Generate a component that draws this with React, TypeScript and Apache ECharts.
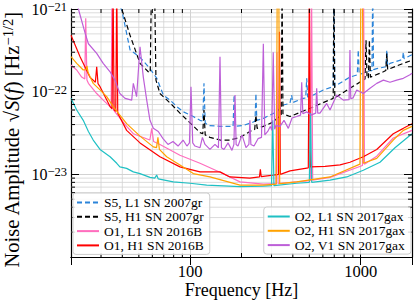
import React, { useEffect, useRef } from 'react';
import * as echarts from 'echarts';

const FONT = '"Liberation Serif", "DejaVu Serif", serif';

const X_MIN = 20;
const X_MAX = 2000;
const Y_MIN = 1e-24;
const Y_MAX = 1e-21;

const xMinorTicks = [30, 40, 50, 60, 70, 80, 90, 200, 300, 400, 500, 600, 700, 800, 900];
const yMinorTicks = [
  2e-24, 3e-24, 4e-24, 5e-24, 6e-24, 7e-24, 8e-24, 9e-24,
  2e-23, 3e-23, 4e-23, 5e-23, 6e-23, 7e-23, 8e-23, 9e-23,
  2e-22, 3e-22, 4e-22, 5e-22, 6e-22, 7e-22, 8e-22, 9e-22,
];

const seriesNames = [
  'S5, L1 SN 2007gr',
  'S5, H1 SN 2007gr',
  'O1, L1 SN 2016B',
  'O1, H1 SN 2016B',
  'O2, L1 SN 2017gax',
  'O2, H1 SN 2017gax',
  'O2, V1 SN 2017gax',
];
const seriesColors = ['#2b84d9', '#000000', '#ff6ebe', '#ff0000', '#1fc0c4', '#ffa200', '#bd5fd8'];
const seriesDashed = [true, true, false, false, false, false, false];

const s5L1: [number, number][] = [
  [37, 1.3e-21], [39.7, 9.7e-22], [44.4, 3.2e-22], [50.8, 2.6e-22], [58.1, 1.9e-22], [63.6, 1.46e-22],
  [69.6, 9.1e-23], [76.2, 7.9e-23], [83.4, 6.6e-23], [91.2, 5.7e-23], [104.3, 5.0e-23], [114.2, 4.5e-23],
  [118.5, 4.4e-23], [120.5, 1.26e-22], [122.5, 4.2e-23], [127.7, 3.9e-23], [149.6, 3.8e-23], [171, 3.8e-23],
  [178.5, 3.8e-23], [181, 9.1e-23], [183.5, 3.8e-23], [205, 3.9e-23], [234.6, 4.3e-23], [240, 4.4e-23],
  [243, 9.5e-23], [246, 4.5e-23], [268.6, 4.75e-23], [321.8, 5.7e-23], [351.6, 6.9e-23], [384.6, 7.2e-23],
  [393.5, 9.1e-23], [400, 7.4e-23], [460.8, 8.3e-23], [476, 8.4e-23], [482.4, 1.45e-22], [489, 8.6e-23],
  [527.4, 9.1e-23], [603.8, 1.05e-22], [690, 1.15e-22], [697, 2e-21], [705, 1.16e-22], [723, 1.2e-22],
  [865, 1.5e-22], [955, 1.6e-22], [968, 3.2e-22], [980, 1.62e-22], [1036, 1.67e-22], [1134, 1.8e-22],
  [1165, 1.8e-22], [1177, 2e-21], [1190, 1.85e-22], [1242, 1.9e-22], [1405, 2.0e-22], [1423, 3.2e-22],
  [1440, 2.05e-22], [1486, 2.2e-22], [1760, 2.45e-22], [1779, 3.0e-22], [1798, 2.5e-22], [2000, 2.8e-22],
];

const s5H1: [number, number][] = [
  [38, 1.2e-21], [39.7, 1.0e-21], [44.4, 4.8e-22], [50.8, 2.2e-22], [56.8, 1.74e-22], [58.3, 1.7e-22],
  [59.3, 2e-21], [61.8, 2e-21], [63, 1.38e-22], [66.5, 9.5e-23], [76.2, 7.3e-23], [87.1, 5.5e-23],
  [99.8, 4.2e-23], [114.2, 3.2e-23], [118.5, 3.1e-23], [120.5, 6e-23], [122.5, 3.0e-23], [130.6, 2.8e-23],
  [149.6, 2.6e-23], [171, 2.6e-23], [196, 2.8e-23], [224, 3.3e-23], [239, 3.5e-23], [243, 5.2e-23],
  [247, 3.6e-23], [268.6, 3.8e-23], [307, 4.3e-23], [342, 5.3e-23], [346, 2e-21], [350, 5.4e-23],
  [384.6, 5e-23], [504.5, 6.3e-23], [690, 8.3e-23], [697, 2e-21], [705, 8.5e-23], [723, 8.7e-23],
  [865, 1.1e-22], [1036, 1.38e-22], [1060, 1.42e-22], [1075, 4.2e-22], [1090, 1.45e-22], [1110, 1.48e-22],
  [1125, 4.2e-22], [1140, 1.5e-22], [1359, 1.74e-22], [1405, 1.8e-22], [1423, 2.9e-22], [1440, 1.85e-22],
  [1779, 2.2e-22], [2000, 2.4e-22],
];

const o1L1: [number, number][] = [
  [20, 2.1e-22], [21.6, 1.83e-22], [23.1, 1.5e-22], [24.1, 1.42e-22], [24.4, 7.7e-22], [24.8, 1.38e-22],
  [25.3, 1.26e-22], [28.3, 9.5e-23], [30.9, 7.9e-23], [33.9, 6.6e-23], [34.4, 6.4e-23], [34.8, 2e-21],
  [35.3, 6.2e-23], [36.2, 5.7e-23], [42.4, 3.8e-23], [46.4, 3.1e-23], [58, 2.6e-23], [59.5, 3.6e-23],
  [61, 2.5e-23], [66.5, 2.3e-23], [87.1, 1.7e-23], [114.2, 1.36e-23], [149.6, 1.06e-23], [196, 8.1e-24],
  [268.6, 7.6e-24], [318, 7.7e-24], [323, 3e-22], [328, 7.7e-24], [421.5, 8.1e-24], [507, 8.4e-24],
  [515, 2e-21], [523, 8.5e-24], [661, 9.2e-24], [1025, 1.28e-23], [1040, 2e-21], [1052, 1.32e-23],
  [1242, 1.66e-23], [1553, 2.75e-23], [2000, 3.4e-23],
];

const o1H1: [number, number][] = [
  [20, 4.8e-22], [22.6, 2.65e-22], [25.8, 1.5e-22], [27.8, 1.3e-22], [28.3, 2e-22], [28.8, 1.25e-22],
  [29.6, 1.15e-22], [33.9, 6.6e-23], [34.8, 6.2e-23], [35.3, 2e-21], [35.8, 6e-23], [36.6, 5.8e-23],
  [37.1, 2e-21], [37.6, 5.5e-23], [42.4, 3.4e-23], [50.8, 2.4e-23], [66.5, 1.63e-23], [87.1, 1.23e-23],
  [114.2, 1.07e-23], [149.6, 1.07e-23], [171, 9.3e-24], [224, 9e-24], [255, 9.3e-24], [258, 1.15e-23],
  [261, 9.4e-24], [307, 9.8e-24], [330, 1.0e-23], [334, 5.3e-22], [338, 1.0e-23], [385, 1.1e-23],
  [493, 1.2e-23], [500, 2e-21], [507, 1.23e-23], [618, 1.25e-23], [757, 1.3e-23], [865, 1.4e-23],
  [1036, 1.63e-23], [1242, 2e-23], [1553, 3.1e-23], [1779, 3.6e-23], [2000, 4.1e-23],
];

const o2L1: [number, number][] = [
  [20, 8.3e-23], [21.6, 6e-23], [23.6, 4.5e-23], [25.3, 3.3e-23], [27, 2.6e-23], [29.6, 2e-23],
  [33.9, 1.63e-23], [37.1, 1.36e-23], [38.7, 1.23e-23], [42.4, 1.18e-23], [46.4, 1.07e-23], [50.8, 1.02e-23],
  [58.1, 9.2e-24], [62, 9.0e-24], [63.6, 9.8e-24], [65, 8.8e-24], [79.6, 8.1e-24], [99.8, 7.8e-24],
  [125, 7.4e-24], [196, 7.1e-24], [268.6, 7.2e-24], [300, 7.3e-24], [305, 4.5e-23], [310, 7.3e-24],
  [421.5, 7.8e-24], [500, 8e-24], [508, 5.5e-23], [516, 8e-24], [661, 8.5e-24], [828, 9.3e-24],
  [1036, 1.12e-23], [1298, 1.4e-23], [1589, 2.1e-23], [2000, 3.1e-23],
];

const o2H1: [number, number][] = [
  [20, 2.65e-22], [21.6, 2.2e-22], [23.6, 1.83e-22], [24.5, 1.85e-22], [24.8, 2.05e-22], [25.2, 1.7e-22],
  [27, 1.26e-22], [29.6, 1.05e-22], [32.4, 8.7e-23], [35.4, 6.6e-23], [38.7, 5.2e-23], [42.4, 4.1e-23],
  [50.8, 2.9e-23], [60.8, 2.15e-23], [63.5, 2.1e-23], [64.7, 2.8e-23], [66, 2.0e-23], [72.8, 1.63e-23],
  [87.1, 1.3e-23], [104.3, 1.02e-23], [130.6, 9.3e-24], [196, 7.4e-24], [268.6, 7.4e-24], [320, 7.6e-24],
  [324, 2e-21], [331, 2e-21], [335, 7.7e-24], [421.5, 8.1e-24], [661, 9.3e-24], [990, 1.33e-23],
  [1003, 2e-21], [1025, 2e-21], [1035, 1.36e-23], [1242, 1.56e-23], [1553, 2.6e-23], [1779, 3.4e-23],
  [2000, 3.8e-23],
];

const o2V1: [number, number][] = [
  [20, 2.5e-21], [22.1, 1.0e-21], [24.2, 5.1e-22], [25.3, 3.8e-22], [28.3, 2.9e-22], [30.9, 2.2e-22],
  [33.9, 1.74e-22], [36.2, 1.38e-22], [38.7, 9.5e-23], [41.5, 8.3e-23], [45.4, 7.9e-23], [46.4, 1.26e-22],
  [48.5, 8.7e-23], [50.8, 3.5e-22], [53.1, 1.5e-22], [55.6, 7.9e-23], [58.1, 4.5e-23], [60.8, 3.6e-23],
  [65, 3.3e-23], [69.3, 2.7e-23], [74.1, 2.3e-23], [79.3, 2.5e-23], [84.9, 2.2e-23], [90.9, 2.6e-23],
  [95.7, 2.2e-23], [99, 2.4e-23], [101.1, 1.15e-22], [103.5, 2.4e-23], [106.7, 2.2e-23], [114.2, 2.1e-23],
  [118, 2.8e-23], [122.2, 2.3e-23], [130.6, 2.0e-23], [139.8, 2.3e-23], [146.5, 2.1e-23], [149.6, 2.65e-22],
  [152.5, 2.1e-23], [157.8, 2.0e-23], [166.7, 2.4e-23], [175.8, 1.95e-23], [180.5, 2.3e-23], [183.3, 9.1e-23],
  [186, 2.3e-23], [190.8, 2.2e-23], [201.4, 3.0e-23], [212.5, 2.1e-23], [221, 2.3e-23], [224, 4.5e-23],
  [227, 2.3e-23], [236.8, 2.2e-23], [250, 2.7e-23], [262, 2.8e-23], [268.6, 3.8e-22], [274, 3.0e-23],
  [285, 3.3e-23], [295, 3.8e-23], [301, 3.4e-23], [307, 3e-22], [313, 3.5e-23], [318.8, 3.9e-23],
  [336.3, 3.8e-23], [355, 4.5e-23], [376.4, 3.6e-23], [395.7, 4.8e-23], [421.5, 5e-23], [444, 5.2e-23],
  [451, 1.3e-22], [458, 5.4e-23], [482.4, 5.7e-23], [511, 5.2e-23], [545, 5.5e-23], [552, 1.1e-22],
  [560, 5.5e-23], [577, 5.5e-23], [632, 7.2e-23], [661, 6e-23], [723, 9.1e-23], [791, 7.9e-23],
  [855, 8e-23], [865, 3.2e-22], [875, 8.2e-23], [902, 8.4e-23], [948, 1.05e-22], [1036, 9.5e-23],
  [1134, 1.1e-22], [1242, 1.26e-22], [1359, 1.38e-22], [1486, 1.3e-22], [1626, 1.38e-22], [1779, 1.45e-22],
  [1946, 1.6e-22], [2000, 1.67e-22],
];

const seriesData = [s5L1, s5H1, o1L1, o1H1, o2L1, o2H1, o2V1];

export default function App() {
  const ref = useRef<HTMLDivElement>(null);

  useEffect(() => {
    const chart = echarts.init(ref.current as HTMLDivElement, null, { renderer: 'svg' });

    const gridColor = '#d2d2d2';

    const minorGridX = {
      type: 'custom',
      silent: true,
      data: xMinorTicks.map((v) => [v, Y_MIN]),
      renderItem: (params: any, api: any) => {
        const cs = params.coordSys;
        const x = api.coord([api.value(0), api.value(1)])[0];
        return {
          type: 'line',
          shape: { x1: x, y1: cs.y, x2: x, y2: cs.y + cs.height },
          style: { stroke: gridColor, lineWidth: 0.8 },
        };
      },
    };
    const minorGridY = {
      type: 'custom',
      silent: true,
      data: yMinorTicks.map((v) => [X_MIN, v]),
      renderItem: (params: any, api: any) => {
        const cs = params.coordSys;
        const y = api.coord([api.value(0), api.value(1)])[1];
        return {
          type: 'line',
          shape: { x1: cs.x, y1: y, x2: cs.x + cs.width, y2: y },
          style: { stroke: gridColor, lineWidth: 0.8 },
        };
      },
    };
    const minorTickX = {
      type: 'custom',
      silent: true,
      z: 6,
      data: xMinorTicks.map((v) => [v, Y_MIN]),
      renderItem: (params: any, api: any) => {
        const cs = params.coordSys;
        const x = api.coord([api.value(0), api.value(1)])[0];
        const top = cs.y;
        const bot = cs.y + cs.height;
        return {
          type: 'group',
          children: [
            { type: 'line', shape: { x1: x, y1: bot, x2: x, y2: bot - 4 }, style: { stroke: '#000', lineWidth: 1 } },
            { type: 'line', shape: { x1: x, y1: top, x2: x, y2: top + 4 }, style: { stroke: '#000', lineWidth: 1 } },
          ],
        };
      },
    };
    const minorTickY = {
      type: 'custom',
      silent: true,
      z: 6,
      data: yMinorTicks.map((v) => [X_MIN, v]),
      renderItem: (params: any, api: any) => {
        const cs = params.coordSys;
        const y = api.coord([api.value(0), api.value(1)])[1];
        const l = cs.x;
        const r = cs.x + cs.width;
        return {
          type: 'group',
          children: [
            { type: 'line', shape: { x1: l, y1: y, x2: l + 4, y2: y }, style: { stroke: '#000', lineWidth: 1 } },
            { type: 'line', shape: { x1: r, y1: y, x2: r - 4, y2: y }, style: { stroke: '#000', lineWidth: 1 } },
          ],
        };
      },
    };

    const lineSeries = seriesNames.map((name, i) => ({
      type: 'line',
      name,
      data: seriesData[i],
      symbol: 'none',
      showSymbol: false,
      clip: true,
      z: 3,
      emphasis: { disabled: true },
      lineStyle: {
        color: seriesColors[i],
        width: 1.2,
        type: seriesDashed[i] ? [5, 3] : 'solid',
      },
      itemStyle: { color: seriesColors[i] },
    }));

    const axisLineStyle = { color: '#000', width: 1.2 };
    const majorTick = { show: true, inside: true, length: 8, lineStyle: { color: '#000', width: 1 } };

    const legendCommon = {
      orient: 'vertical',
      itemWidth: 22,
      itemHeight: 14,
      itemGap: 0.3,
      padding: [2.5, 6, 2, 3],
      backgroundColor: 'rgba(255,255,255,0.85)',
      borderColor: '#cccccc',
      borderWidth: 1,
      borderRadius: 3,
      selectedMode: false,
      z: 10,
      itemStyle: { opacity: 0, borderWidth: 0 },
      lineStyle: { width: 2, opacity: 1 },
      textStyle: { fontFamily: FONT, fontSize: 13.5, color: '#000', lineHeight: 14 },
    };

    const yTitleRich = {
      t: { fontFamily: FONT, fontSize: 20.5, lineHeight: 24, fill: '#000' },
      i: { fontFamily: FONT, fontSize: 20.5, lineHeight: 24, fontStyle: 'italic', fill: '#000' },
      s: { fontFamily: FONT, fontSize: 14.5, lineHeight: 13, verticalAlign: 'top', fill: '#000' },
    };

    const option: any = {
      animation: false,
      backgroundColor: '#ffffff',
      grid: { left: 71, right: 3, top: 9, bottom: 45, containLabel: false, outerBoundsMode: 'none' },
      legend: [
        { ...legendCommon, data: seriesNames.slice(0, 4), left: 73, top: 193 },
        { ...legendCommon, data: seriesNames.slice(4), right: 4, top: 207 },
      ],
      graphic: [
        {
          type: 'text',
          x: 12,
          y: 140,
          rotation: Math.PI / 2,
          silent: true,
          style: {
            text: '{t|Noise Amplitude }{t|\u221A}{i|S}{t|(}{i|f}{t|) [Hz}{s|\u22121/2}{t|]}',
            rich: yTitleRich,
            align: 'center',
            verticalAlign: 'middle',
          },
        },
        {
          type: 'text',
          x: 241.5,
          y: 290,
          silent: true,
          style: {
            text: 'Frequency [Hz]',
            fontFamily: FONT,
            fontSize: 18,
            fill: '#000',
            align: 'center',
            verticalAlign: 'middle',
          },
        },
      ],
      xAxis: [
        {
          type: 'log',
          logBase: 10,
          min: X_MIN,
          max: X_MAX,
          position: 'bottom',
          axisLine: { show: true, lineStyle: axisLineStyle },
          axisTick: majorTick,
          axisLabel: {
            fontFamily: FONT,
            fontSize: 16.5,
            color: '#000',
            margin: 6,
            formatter: (v: number) => {
              const e = Math.log10(v);
              return Math.abs(e - Math.round(e)) < 1e-6 ? String(Math.round(v)) : '';
            },
          },
          splitLine: { show: true, lineStyle: { color: gridColor, width: 1 } },
        },
        {
          type: 'log',
          logBase: 10,
          min: X_MIN,
          max: X_MAX,
          position: 'top',
          axisLine: { show: true, lineStyle: axisLineStyle },
          axisTick: majorTick,
          axisLabel: { show: false },
          splitLine: { show: false },
        },
      ],
      yAxis: [
        {
          type: 'log',
          logBase: 10,
          min: Y_MIN,
          max: Y_MAX,
          position: 'left',
          axisLine: { show: true, lineStyle: axisLineStyle },
          axisTick: majorTick,
          axisLabel: {
            margin: 4,
            formatter: (v: number) => {
              const e = Math.round(Math.log10(v));
              return `{b|10}{s|\u2212${Math.abs(e)}}`;
            },
            rich: {
              b: { fontFamily: FONT, fontSize: 16, lineHeight: 17, color: '#000' },
              s: { fontFamily: FONT, fontSize: 12.5, lineHeight: 8, verticalAlign: 'top', color: '#000' },
            },
          },
          splitLine: { show: true, lineStyle: { color: gridColor, width: 1 } },
        },
        {
          type: 'log',
          logBase: 10,
          min: Y_MIN,
          max: Y_MAX,
          position: 'right',
          axisLine: { show: true, lineStyle: axisLineStyle },
          axisTick: majorTick,
          axisLabel: { show: false },
          splitLine: { show: false },
        },
      ],
      series: [minorGridX, minorGridY, ...lineSeries, minorTickX, minorTickY],
    };

    try {
      chart.setOption(option);
    } catch (e) {
      console.error('setOption failed', e);
    }
    return () => {
      chart.dispose();
    };
  }, []);

  return (
    <div
      ref={ref}
      style={{ position: 'fixed', left: 0, top: 0, width: 415, height: 302, background: '#fff' }}
    />
  );
}
